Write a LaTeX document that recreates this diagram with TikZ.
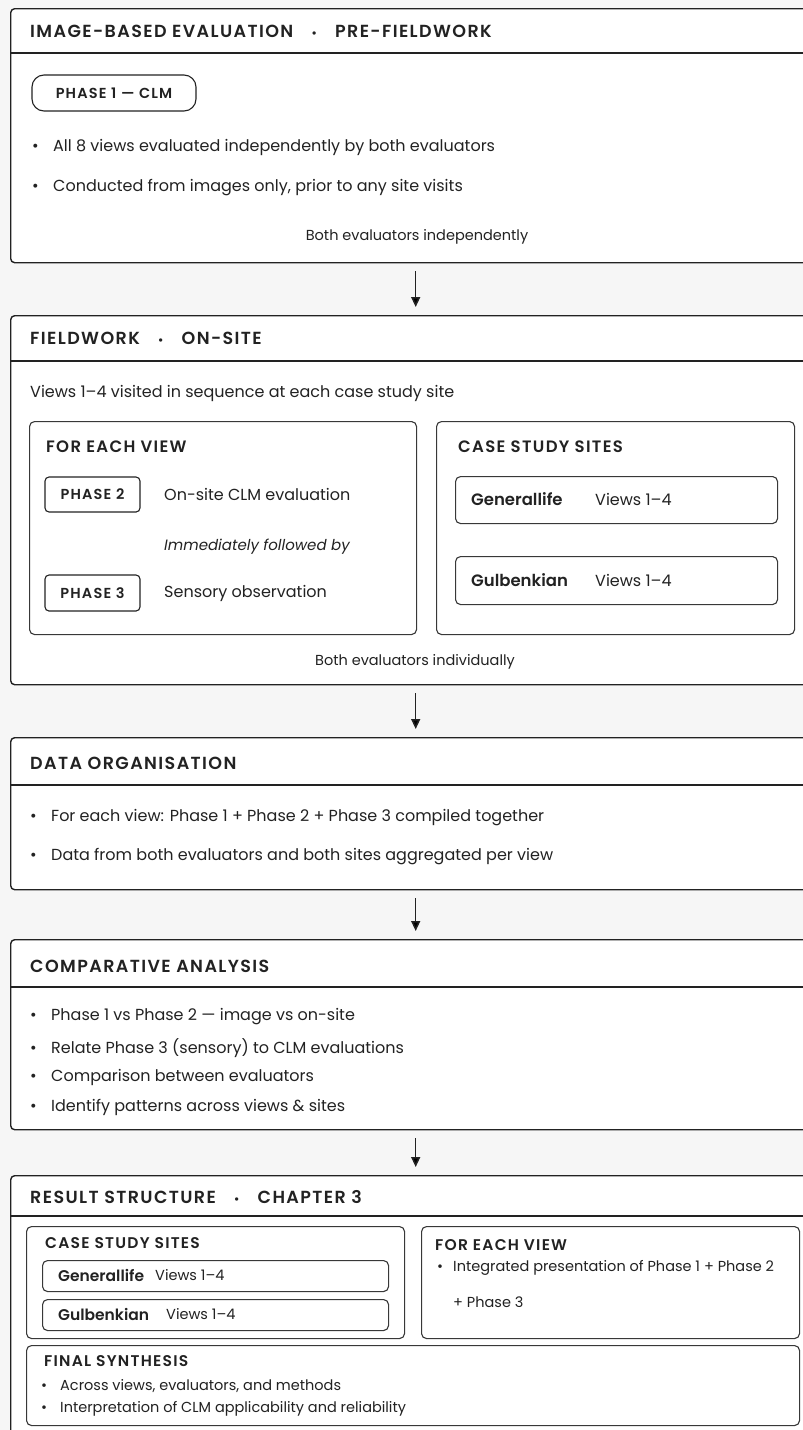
\documentclass[tikz,border=0pt]{standalone}
\usepackage{fontspec}
\setmainfont{Poppins}
\IfFontExistsTF{Poppins Medium}
  {\newfontfamily\capsfont[LetterSpace=8,BoldFont={Poppins SemiBold}]{Poppins Medium}
   \newfontfamily\sitefont{Poppins SemiBold}}
  {\newfontfamily\capsfont[LetterSpace=8]{Poppins}
   \newfontfamily\sitefont[UprightFont=*,BoldFont=*]{Poppins}}
\usetikzlibrary{positioning,arrows.meta}

\definecolor{ink}{HTML}{222222}
\definecolor{paper}{HTML}{F6F6F6}
\newcommand{\bul}{\makebox[21pt][l]{\textbullet}}
\newcommand{\dotsep}{\hspace{18pt}{\fontsize{12}{12}\selectfont\textbullet}\hspace{18pt}}

\begin{document}
\begin{tikzpicture}[x=1pt,y=-1pt,
    panel/.style={draw=ink,line width=1.4pt,rounded corners=4pt,fill=white,
                  anchor=north west,inner sep=0pt,minimum width=810pt},
    inbox/.style={draw=ink!90,line width=1.1pt,rounded corners=5pt,fill=white,
                  anchor=north west,inner sep=0pt},
    tag/.style={draw=ink,line width=1.1pt,rounded corners=4pt,fill=white,inner sep=0pt,
                font=\capsfont\bfseries\fontsize{14.5}{17}\selectfont,text=ink},
    head/.style={anchor=west,inner sep=0pt,text=ink,
                 font=\capsfont\bfseries\fontsize{17.5}{20}\selectfont},
    sub/.style={anchor=west,inner sep=0pt,text=ink,
                font=\capsfont\bfseries\fontsize{16.5}{19}\selectfont},
    subsm/.style={sub,font=\capsfont\bfseries\fontsize{15.5}{18}\selectfont},
    txt/.style={anchor=west,inner sep=0pt,text=ink,font=\fontsize{16}{19}\selectfont},
    note/.style={anchor=center,inner sep=0pt,text=ink,font=\fontsize{14.5}{17}\selectfont},
    small/.style={anchor=west,inner sep=0pt,text=ink,font=\fontsize{14.5}{17}\selectfont},
    site/.style={anchor=west,inner sep=0pt,text=ink,font=\sitefont\fontsize{16.5}{19}\selectfont},
    sitesm/.style={site,font=\sitefont\fontsize{15.5}{18}\selectfont},
    sep/.style={draw=ink,line width=1.2pt},
    flow/.style={draw=ink,line width=1.5pt,-{Triangle[length=10pt,width=9pt]},
                 shorten <=8pt,shorten >=8pt}]
    \useasboundingbox[fill=paper] (0,0) rectangle (803,1430);

    % image-based evaluation
    \node[panel,minimum height=254pt] (p1) at (10,8) {};
    \draw[sep] (10,53) -- (820,53);
    \node[head] (h1) at (30,31) {IMAGE-BASED EVALUATION\dotsep PRE-FIELDWORK};
    \node[tag,rounded corners=12pt,minimum width=164pt,minimum height=36pt] (ph1) at (114,93) {PHASE 1 — CLM};
    \node[txt] (b11) at (32,147) {\bul All 8 views evaluated independently by both evaluators};
    \node[txt] (b12) at (32,188) {\bul Conducted from images only, prior to any site visits};
    \node[note] (n1) at (417,237) {Both evaluators independently};

    % fieldwork
    \node[panel,minimum height=369pt] (p2) at (10,315) {};
    \draw[sep] (10,361) -- (820,361);
    \node[head] (h2) at (30,338) {FIELDWORK\dotsep ON-SITE};
    \node[txt] (v2) at (30,393) {Views 1–4 visited in sequence at each case study site};
    \node[inbox,minimum width=387pt,minimum height=213pt] (each2) at (29,421) {};
    \node[sub] (se2) at (46,447) {FOR EACH VIEW};
    \node[tag,minimum width=95pt,minimum height=35pt] (ph2) at (92.5,494.5) {PHASE 2};
    \node[txt] (d2) at (164,494.5) {On-site CLM evaluation};
    \node[txt,font=\fontsize{15}{18}\selectfont] (imm) at (164,547) {\itshape Immediately followed by};
    \node[tag,minimum width=95pt,minimum height=36pt] (ph3) at (92.5,593) {PHASE 3};
    \node[txt] (d3) at (164,593) {Sensory observation};
    \node[inbox,minimum width=358pt,minimum height=213pt] (sites2) at (436,421) {};
    \node[sub] (ss2) at (458,447) {CASE STUDY SITES};
    \node[inbox,minimum width=322pt,minimum height=47pt] (gen2) at (455,476) {};
    \node[site] at (471,499.5) {Generallife};
    \node[txt] at (595,499.5) {Views 1–4};
    \node[inbox,minimum width=322pt,minimum height=48pt] (gul2) at (455,556) {};
    \node[site] at (471,580) {Gulbenkian};
    \node[txt] at (595,580) {Views 1–4};
    \node[note] (n2) at (415,662) {Both evaluators individually};

    % data organisation
    \node[panel,minimum height=152pt] (p3) at (10,737) {};
    \draw[sep] (10,785) -- (820,785);
    \node[head] (h3) at (30,763) {DATA ORGANISATION};
    \node[txt] (b31) at (30,818) {\bul For each view: Phase 1 + Phase 2 + Phase 3 compiled together};
    \node[txt] (b32) at (30,857) {\bul Data from both evaluators and both sites aggregated per view};

    % comparative analysis
    \node[panel,minimum height=190pt] (p4) at (10,939) {};
    \draw[sep] (10,987) -- (820,987);
    \node[head] (h4) at (30,966) {COMPARATIVE ANALYSIS};
    \node[txt] (b41) at (30,1017) {\bul Phase 1 vs Phase 2 — image vs on-site};
    \node[txt] (b42) at (30,1048) {\bul Relate Phase 3 (sensory) to CLM evaluations};
    \node[txt] (b43) at (30,1077) {\bul Comparison between evaluators};
    \node[txt] (b44) at (30,1107) {\bul Identify patterns across views \& sites};

    % result structure
    \node[panel,minimum height=270pt] (p5) at (10,1175) {};
    \draw[sep] (10,1216) -- (820,1216);
    \node[head] (h5) at (30,1197) {RESULT STRUCTURE\dotsep CHAPTER 3};
    \node[inbox,minimum width=378pt,minimum height=112pt] (sites5) at (26,1226) {};
    \node[subsm] (ss5) at (45,1243) {CASE STUDY SITES};
    \node[inbox,minimum width=346pt,minimum height=31pt] (gen5) at (42,1260) {};
    \node[sitesm] at (58,1275.5) {Generallife};
    \node[small] at (155,1275.5) {Views 1–4};
    \node[inbox,minimum width=346pt,minimum height=31pt] (gul5) at (42,1299) {};
    \node[sitesm] at (58,1314.5) {Gulbenkian};
    \node[small] at (166,1314.5) {Views 1–4};
    \node[inbox,minimum width=378pt,minimum height=112pt] (each5) at (421,1226) {};
    \node[subsm] (se5) at (435,1245) {FOR EACH VIEW};
    \node[small] (b51) at (437,1268) {\makebox[16pt][l]{\textbullet}Integrated presentation of Phase 1 + Phase 2};
    \node[small] (b52) at (453,1302) {+ Phase 3};
    \node[inbox,minimum width=773pt,minimum height=80pt] (fin) at (26,1345) {};
    \node[subsm] (sf) at (44,1361) {FINAL SYNTHESIS};
    \node[small] (b53) at (41,1386) {\makebox[19pt][l]{\textbullet}Across views, evaluators, and methods};
    \node[small] (b54) at (41,1409) {\makebox[19pt][l]{\textbullet}Interpretation of CLM applicability and reliability};

    \path[flow] (p1) edge (p2)
                (p2) edge (p3)
                (p3) edge (p4)
                (p4) edge (p5);
\end{tikzpicture}
\end{document}
